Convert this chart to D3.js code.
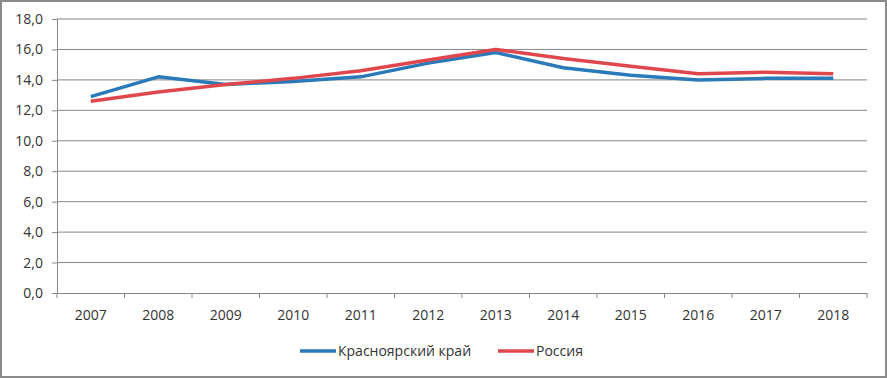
<!DOCTYPE html>
<html>
<head>
<meta charset="utf-8">
<script src="https://cdn.jsdelivr.net/npm/d3@7"></script>
<style>
  html, body { margin: 0; padding: 0; background: #fff; }
  svg { display: block; font-family: "Open Sans", "Liberation Sans", sans-serif; }
</style>
</head>
<body>
<svg id="chart" width="887" height="378"></svg>
<script>
const years = ['2007','2008','2009','2010','2011','2012','2013','2014','2015','2016','2017','2018'];
const krasnoyarsk = [12.9, 14.2, 13.7, 13.9, 14.2, 15.1, 15.8, 14.8, 14.3, 14.0, 14.1, 14.1];
const russia = [12.6, 13.2, 13.7, 14.1, 14.6, 15.3, 16.0, 15.4, 14.9, 14.4, 14.5, 14.4];
const yTicks = [0, 2, 4, 6, 8, 10, 12, 14, 16, 18];
const seriesNames = ['Красноярский край', 'Россия'];
const colors = ['#2a7ab9', '#e0474c'];

const svg = d3.select('#chart');
const W = 887, H = 378;
const m = { left: 57, right: 20, top: 19, bottom: 85 };
const textColor = '#333';
const fontSize = '14px';

// outer frame
svg.append('rect')
  .attr('x', 1).attr('y', 1).attr('width', W - 2).attr('height', H - 2)
  .attr('fill', '#fff').attr('stroke', '#8a8a8a').attr('stroke-width', 2);

const x = d3.scaleBand().domain(years).range([m.left, W - m.right]);
const y = d3.scaleLinear().domain([0, 18]).range([H - m.bottom, m.top]);

// gridlines
svg.append('g').selectAll('line')
  .data(yTicks.filter(d => d > 0))
  .join('line')
  .attr('x1', m.left).attr('x2', W - m.right)
  .attr('y1', d => y(d)).attr('y2', d => y(d))
  .attr('stroke', '#878787').attr('stroke-width', 1);

const fmt = d => d.toFixed(1).replace('.', ',');

// y axis
const yAxis = svg.append('g')
  .attr('transform', `translate(${m.left},0)`)
  .call(d3.axisLeft(y).tickValues(yTicks).tickFormat(fmt).tickSize(5).tickPadding(9));
yAxis.select('.domain').attr('stroke', '#878787');
yAxis.selectAll('.tick line').attr('stroke', '#878787');
yAxis.selectAll('text').attr('fill', textColor).style('font-size', fontSize)
  .style('font-family', '"Open Sans", sans-serif');

// x axis
const xAxis = svg.append('g')
  .attr('transform', `translate(0,${y(0)})`)
  .call(d3.axisBottom(x).tickSize(0).tickPadding(17));
xAxis.select('.domain').attr('stroke', '#878787');
xAxis.selectAll('text').attr('fill', textColor).style('font-size', fontSize)
  .style('font-family', '"Open Sans", sans-serif');
// ticks at band boundaries
xAxis.append('g').selectAll('line')
  .data(years.concat(['end']))
  .join('line')
  .attr('x1', (d, i) => m.left + i * x.step())
  .attr('x2', (d, i) => m.left + i * x.step())
  .attr('y1', 0).attr('y2', 5)
  .attr('stroke', '#878787');

// lines
const line = d3.line()
  .x((d, i) => x(years[i]) + x.bandwidth() / 2)
  .y(d => y(d));

[krasnoyarsk, russia].forEach((s, i) => {
  svg.append('path')
    .datum(s)
    .attr('d', line)
    .attr('fill', 'none')
    .attr('stroke', colors[i])
    .attr('stroke-width', 3.5)
    .attr('stroke-linejoin', 'round');
});

// legend
const legendX = [300, 498];
const legend = svg.append('g').selectAll('g')
  .data(seriesNames)
  .join('g')
  .attr('transform', (d, i) => `translate(${legendX[i]},351)`);
legend.append('line')
  .attr('x1', 0).attr('x2', 36).attr('y1', 0).attr('y2', 0)
  .attr('stroke', (d, i) => colors[i]).attr('stroke-width', 3.5);
legend.append('text')
  .attr('x', 38).attr('y', 0).attr('dy', '0.35em')
  .attr('fill', textColor)
  .style('font-size', fontSize)
  .text(d => d);
</script>
</body>
</html>
